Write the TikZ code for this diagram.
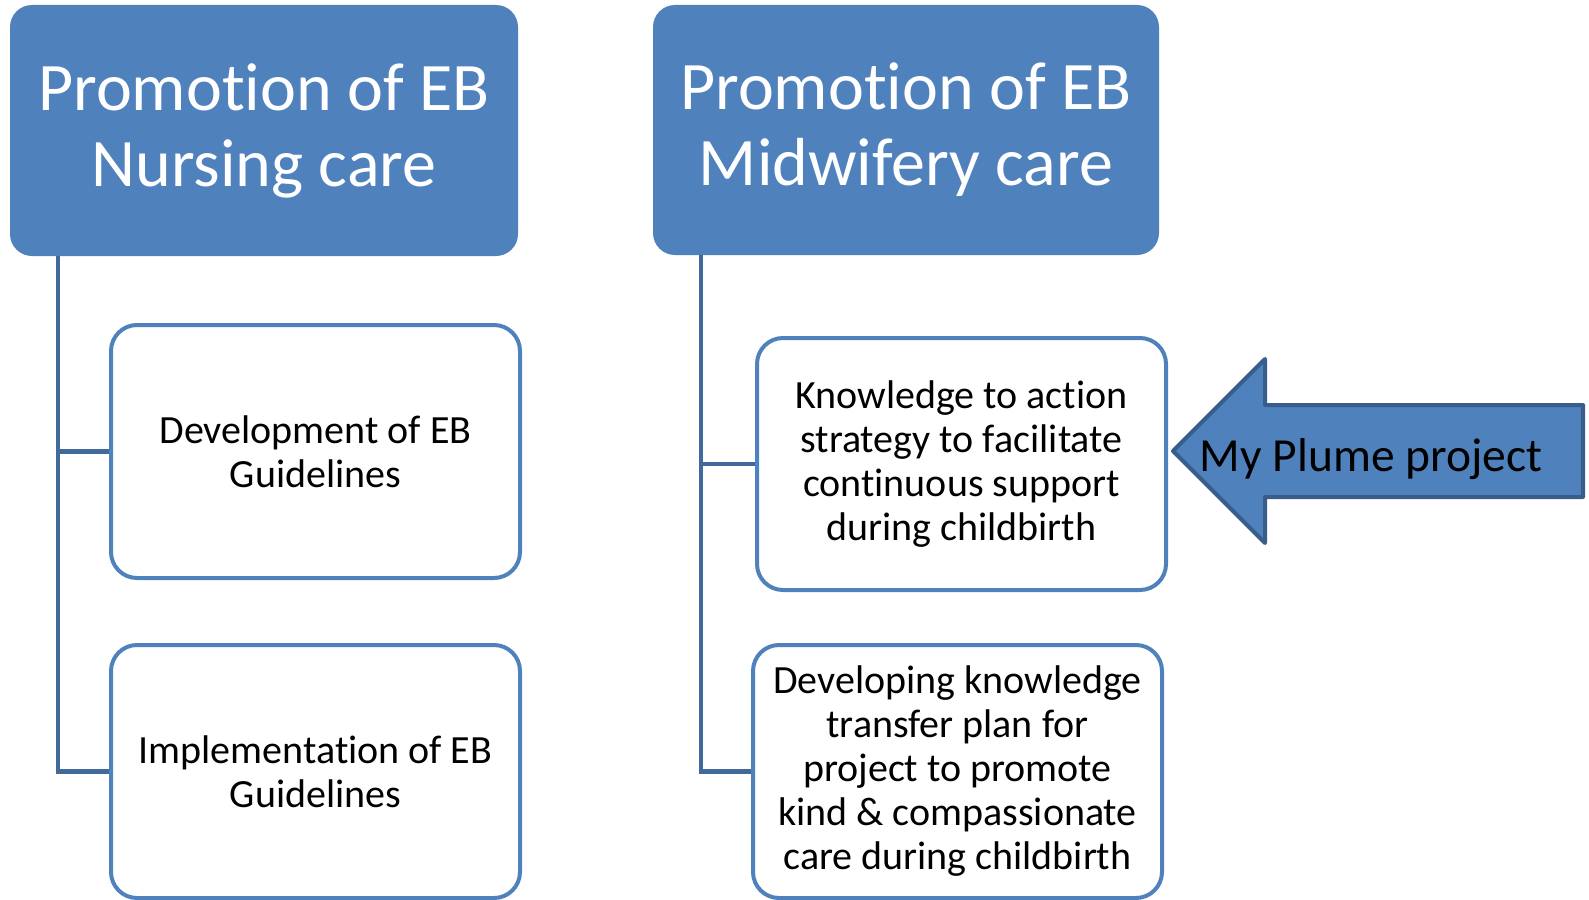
\documentclass[tikz,border=0pt]{standalone}
\usepackage{fontspec}
\setmainfont[Ligatures=NoCommon]{Carlito}
\usepackage{tikz}

\definecolor{boxblue}{HTML}{4F81BD}
\definecolor{edgeblue}{HTML}{41699C}
\definecolor{darkblue}{HTML}{385D8A}

\begin{document}
\begin{tikzpicture}[x=1pt,y=-1pt]
\tikzstyle{header}=[rectangle, rounded corners=22pt, fill=boxblue, text=white, align=center, inner sep=0pt, font=\fontsize{68}{76}\selectfont]
\tikzstyle{child}=[rectangle, rounded corners=26pt, draw=boxblue, line width=4pt, fill=white, align=center, inner sep=0pt, minimum width=409pt, font=\fontsize{40}{44}\selectfont]
\tikzstyle{tree}=[draw=edgeblue, line width=4.5pt]
\useasboundingbox (0,0) rectangle (1589,899);

% headers
\node[header, minimum width=508pt, minimum height=251pt] (nursing) at (264,130.5) {Promotion of EB\\Nursing care};
\node[header, minimum width=506pt, minimum height=250pt] (midwifery) at (906,130) {Promotion of EB\\Midwifery care};

% children
\node[child, minimum height=253pt] (develop) at (315.5,451.5) {Development of EB\\Guidelines};
\node[child, minimum height=253pt] (implement) at (315.5,771.5) {Implementation of EB\\Guidelines};
\node[child, minimum height=252pt] (knowledge) at (961.5,464) {Knowledge to action\\strategy to facilitate\\continuous support\\during childbirth};
\node[child, minimum height=253pt] (transfer) at (957.5,771.5) {Developing knowledge\\transfer plan for\\project to promote\\kind \& compassionate\\care during childbirth};

\foreach \c in {develop,implement} {
\draw[tree] ([xshift=48pt]nursing.south west) |- (\c.west);
}
\foreach \c in {knowledge,transfer} {
\draw[tree] ([xshift=48pt]midwifery.south west) |- (\c.west);
}

% arrow
\draw[fill=boxblue, draw=darkblue, line width=4pt, line join=round] (1173,451) -- (1265,359) -- (1265,405) -- (1583,405) -- (1583,497) -- (1265,497) -- (1265,543) -- cycle;
\node[font=\fontsize{47.5}{52}\selectfont, inner sep=0pt, anchor=base] (plume) at (1371,471) {My Plume project};

\end{tikzpicture}
\end{document}
